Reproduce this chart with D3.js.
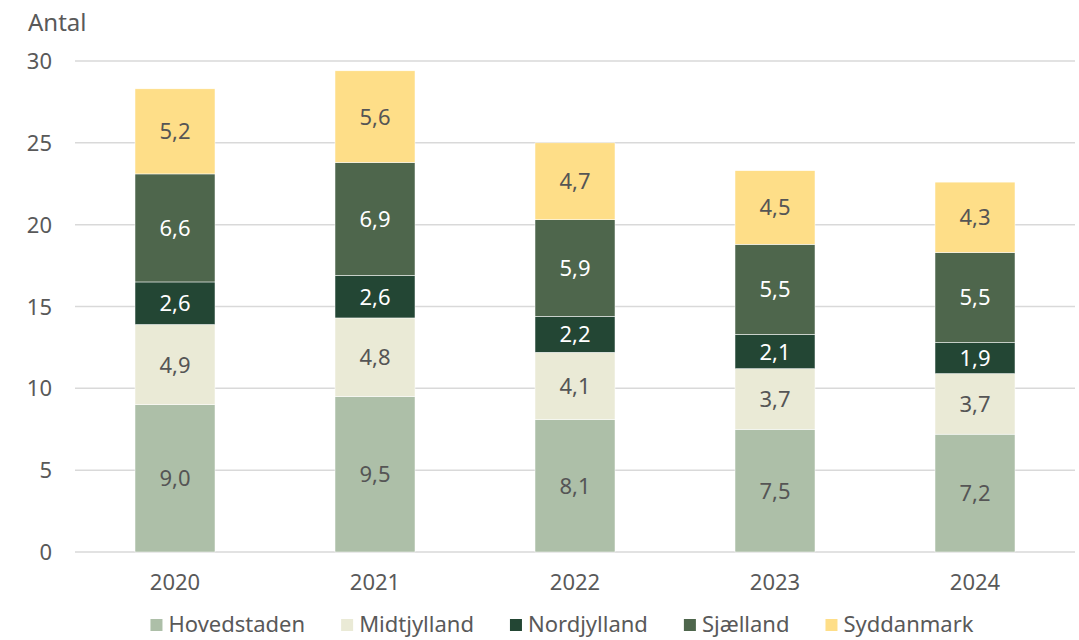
<!DOCTYPE html>
<html>
<head>
<meta charset="utf-8">
<script src="https://cdn.jsdelivr.net/npm/d3@7"></script>
<style>
  body { margin: 0; background: #fff; }
  text { font-family: "Noto Sans", sans-serif; }
</style>
</head>
<body>
<div class="chart"></div>
<script>
// data
var years = [ '2020' , '2021' , '2022' , '2023' , '2024' ];
var regions = [ 'Hovedstaden' , 'Midtjylland' , 'Nordjylland' , 'Sjælland' , 'Syddanmark' ];
var hovedstaden = [ 9.0 , 9.5 , 8.1 , 7.5 , 7.2 ];
var midtjylland = [ 4.9 , 4.8 , 4.1 , 3.7 , 3.7 ];
var nordjylland = [ 2.6 , 2.6 , 2.2 , 2.1 , 1.9 ];
var sjaelland = [ 6.6 , 6.9 , 5.9 , 5.5 , 5.5 ];
var syddanmark = [ 5.2 , 5.6 , 4.7 , 4.5 , 4.3 ];
var yTicks = [ 0 , 5 , 10 , 15 , 20 , 25 , 30 ];

var series = [ hovedstaden , midtjylland , nordjylland , sjaelland , syddanmark ];
var colors = [ '#adbfa8' , '#eaead6' , '#234634' , '#4e664c' , '#fede88' ];
var labelColors = [ '#555' , '#555' , '#fff' , '#fff' , '#555' ];

var width = 1079 , height = 640;

var svg = d3.select( '.chart' )
    .append( 'svg' )
    .attr( 'width' , width )
    .attr( 'height' , height );

var x = d3.scaleBand().domain( years ).range( [ 75 , 1075 ] ).paddingInner( 0.6 ).paddingOuter( 0.3 );
var y = d3.scaleLinear().domain( [ 0 , 30 ] ).range( [ 552 , 61 ] );

// gridlines
svg.selectAll( 'line.grid' )
    .data( yTicks )
    .enter()
        .append( 'line' )
        .attr( 'x1' , 75 )
        .attr( 'x2' , 1075 )
        .attr( 'y1' , function( d ){ return y( d ) })
        .attr( 'y2' , function( d ){ return y( d ) })
        .attr( 'stroke' , '#d9d9d9' )
        .attr( 'stroke-width' , 1.5 );

// y tick labels
svg.selectAll( 'text.ytick' )
    .data( yTicks )
    .enter()
        .append( 'text' )
        .attr( 'x' , 52 )
        .attr( 'y' , function( d ){ return y( d ) + 8 })
        .attr( 'text-anchor' , 'end' )
        .attr( 'font-size' , 22 )
        .attr( 'fill' , '#595959' )
        .text( function( d ){ return d });

svg.append( 'text' )
    .attr( 'x' , 28 )
    .attr( 'y' , 31 )
    .attr( 'font-size' , 24 )
    .attr( 'fill' , '#595959' )
    .text( 'Antal' );

// stack the series
var rows = years.map( function( yr , i ){
    var row = { year: yr };
    regions.forEach( function( r , k ){ row[ r ] = series[ k ][ i ] });
    return row;
});
var stacked = d3.stack().keys( regions )( rows );

var groups = svg.selectAll( 'g.layer' )
    .data( stacked )
    .enter()
        .append( 'g' )
        .attr( 'fill' , function( d , i ){ return colors[ i ] });

groups.selectAll( 'rect' )
    .data( function( d ){ return d })
    .enter()
        .append( 'rect' )
        .attr( 'x' , function( d ){ return x( d.data.year ) })
        .attr( 'width' , x.bandwidth() )
        .attr( 'y' , function( d ){ return y( d[ 1 ] ) })
        .attr( 'height' , function( d ){ return y( d[ 0 ] ) - y( d[ 1 ] ) })
        .attr( 'stroke' , '#fff' )
        .attr( 'stroke-width' , 0.5 );

groups.selectAll( 'text' )
    .data( function( d , i ){ return d.map( function( p ){ p.k = i; return p }) })
    .enter()
        .append( 'text' )
        .attr( 'x' , function( d ){ return x( d.data.year ) + x.bandwidth() / 2 })
        .attr( 'y' , function( d ){ return ( y( d[ 0 ] ) + y( d[ 1 ] ) ) / 2 + 8 })
        .attr( 'text-anchor' , 'middle' )
        .attr( 'font-size' , 22 )
        .attr( 'fill' , function( d ){ return labelColors[ d.k ] })
        .text( function( d ){ return d3.format( '.1f' )( d[ 1 ] - d[ 0 ] ).replace( '.' , ',' ) });

// x axis labels
svg.selectAll( 'text.xtick' )
    .data( years )
    .enter()
        .append( 'text' )
        .attr( 'x' , function( d ){ return x( d ) + x.bandwidth() / 2 })
        .attr( 'y' , 590 )
        .attr( 'text-anchor' , 'middle' )
        .attr( 'font-size' , 22 )
        .attr( 'fill' , '#595959' )
        .text( function( d ){ return d });

// legend, laid out by text widths
var legend = svg.append( 'g' );
var lx = 0;
regions.forEach( function( r , i ){
    var item = legend.append( 'g' ).attr( 'transform' , 'translate(' + lx + ',0)' );
    item.append( 'rect' )
        .attr( 'x' , 0 ).attr( 'y' , 619 )
        .attr( 'width' , 12 ).attr( 'height' , 12 )
        .attr( 'fill' , colors[ i ] );
    var t = item.append( 'text' )
        .attr( 'x' , 18 ).attr( 'y' , 632 )
        .attr( 'font-size' , 22 )
        .attr( 'fill' , '#595959' )
        .text( r );
    lx += 18 + t.node().getComputedTextLength() + 36;
});
var total = lx - 36;
legend.attr( 'transform' , 'translate(' + ( 562 - total / 2 ) + ',0)' );
</script>
</body>
</html>
